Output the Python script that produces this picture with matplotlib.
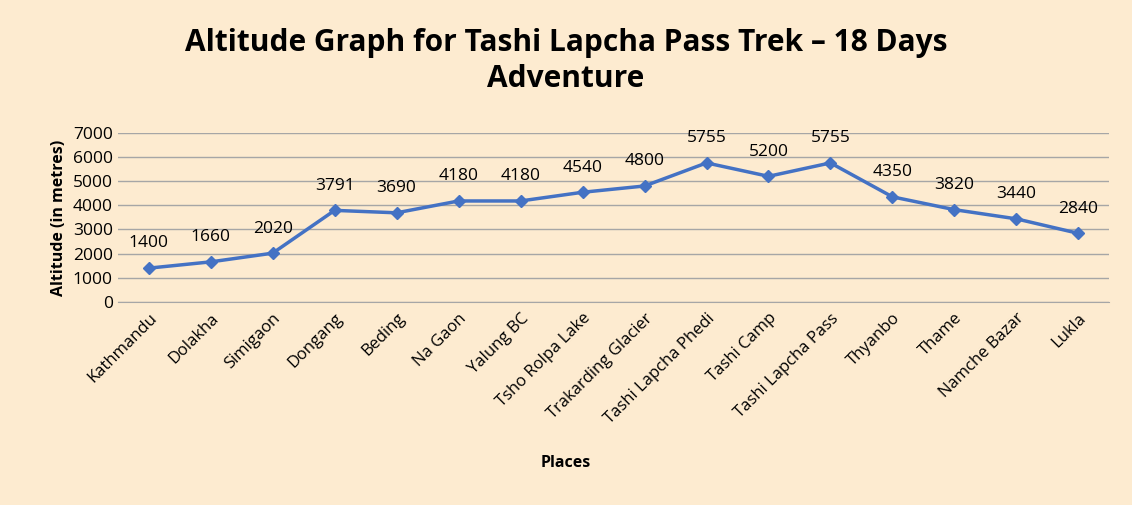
import matplotlib
matplotlib.use("Agg")
import matplotlib.pyplot as plt

places = ["Kathmandu", "Dolakha", "Simigaon", "Dongang", "Beding", "Na Gaon",
          "Yalung BC", "Tsho Rolpa Lake", "Trakarding Glacier", "Tashi Lapcha Phedi",
          "Tashi Camp", "Tashi Lapcha Pass", "Thyanbo", "Thame", "Namche Bazar", "Lukla"]
altitude = [1400, 1660, 2020, 3791, 3690, 4180, 4180, 4540, 4800, 5755,
            5200, 5755, 4350, 3820, 3440, 2840]

BG = "#FDEBD0"
LINE = "#4472C4"
plt.rcParams["font.family"] = ["Open Sans", "DejaVu Sans"]

fig = plt.figure(figsize=(11.32, 5.05), dpi=100, facecolor=BG)
ax = fig.add_axes([0.104, 0.402, 0.876, 0.335], facecolor=BG)

x = list(range(len(places)))
ax.plot(x, altitude, color=LINE, lw=2.5, marker="D", ms=6)
for xi, v in zip(x, altitude):
    ax.annotate(str(v), (xi, v), xytext=(0, 12), textcoords="offset points",
                ha="center", va="bottom", fontsize=12.5)

ax.set_xlim(-0.5, len(places) - 0.5)
ax.set_ylim(0, 7000)
ax.set_yticks(range(0, 7001, 1000))
ax.set_xticks(x)
ax.set_xticklabels(places, rotation=45, ha="right", rotation_mode="anchor", fontsize=12)
ax.tick_params(axis="y", labelsize=12.5, length=0)
ax.tick_params(axis="x", length=0, pad=6)
ax.grid(axis="y", color="#A6A6A6", lw=1)
ax.set_axisbelow(True)
for s in ["left", "right", "top"]:
    ax.spines[s].set_visible(False)
ax.spines["bottom"].set_color("#A6A6A6")

ax.set_ylabel("Altitude (in metres)", fontsize=11.5, fontweight="bold")
fig.text(0.5, 0.075, "Places", ha="center", fontsize=11.5, fontweight="bold")
fig.text(0.5, 0.945, "Altitude Graph for Tashi Lapcha Pass Trek \u2013 18 Days\nAdventure",
         ha="center", va="top", fontsize=21.5, fontweight="bold", linespacing=1.25)

fig.savefig("out.png", dpi=100, facecolor=BG)
